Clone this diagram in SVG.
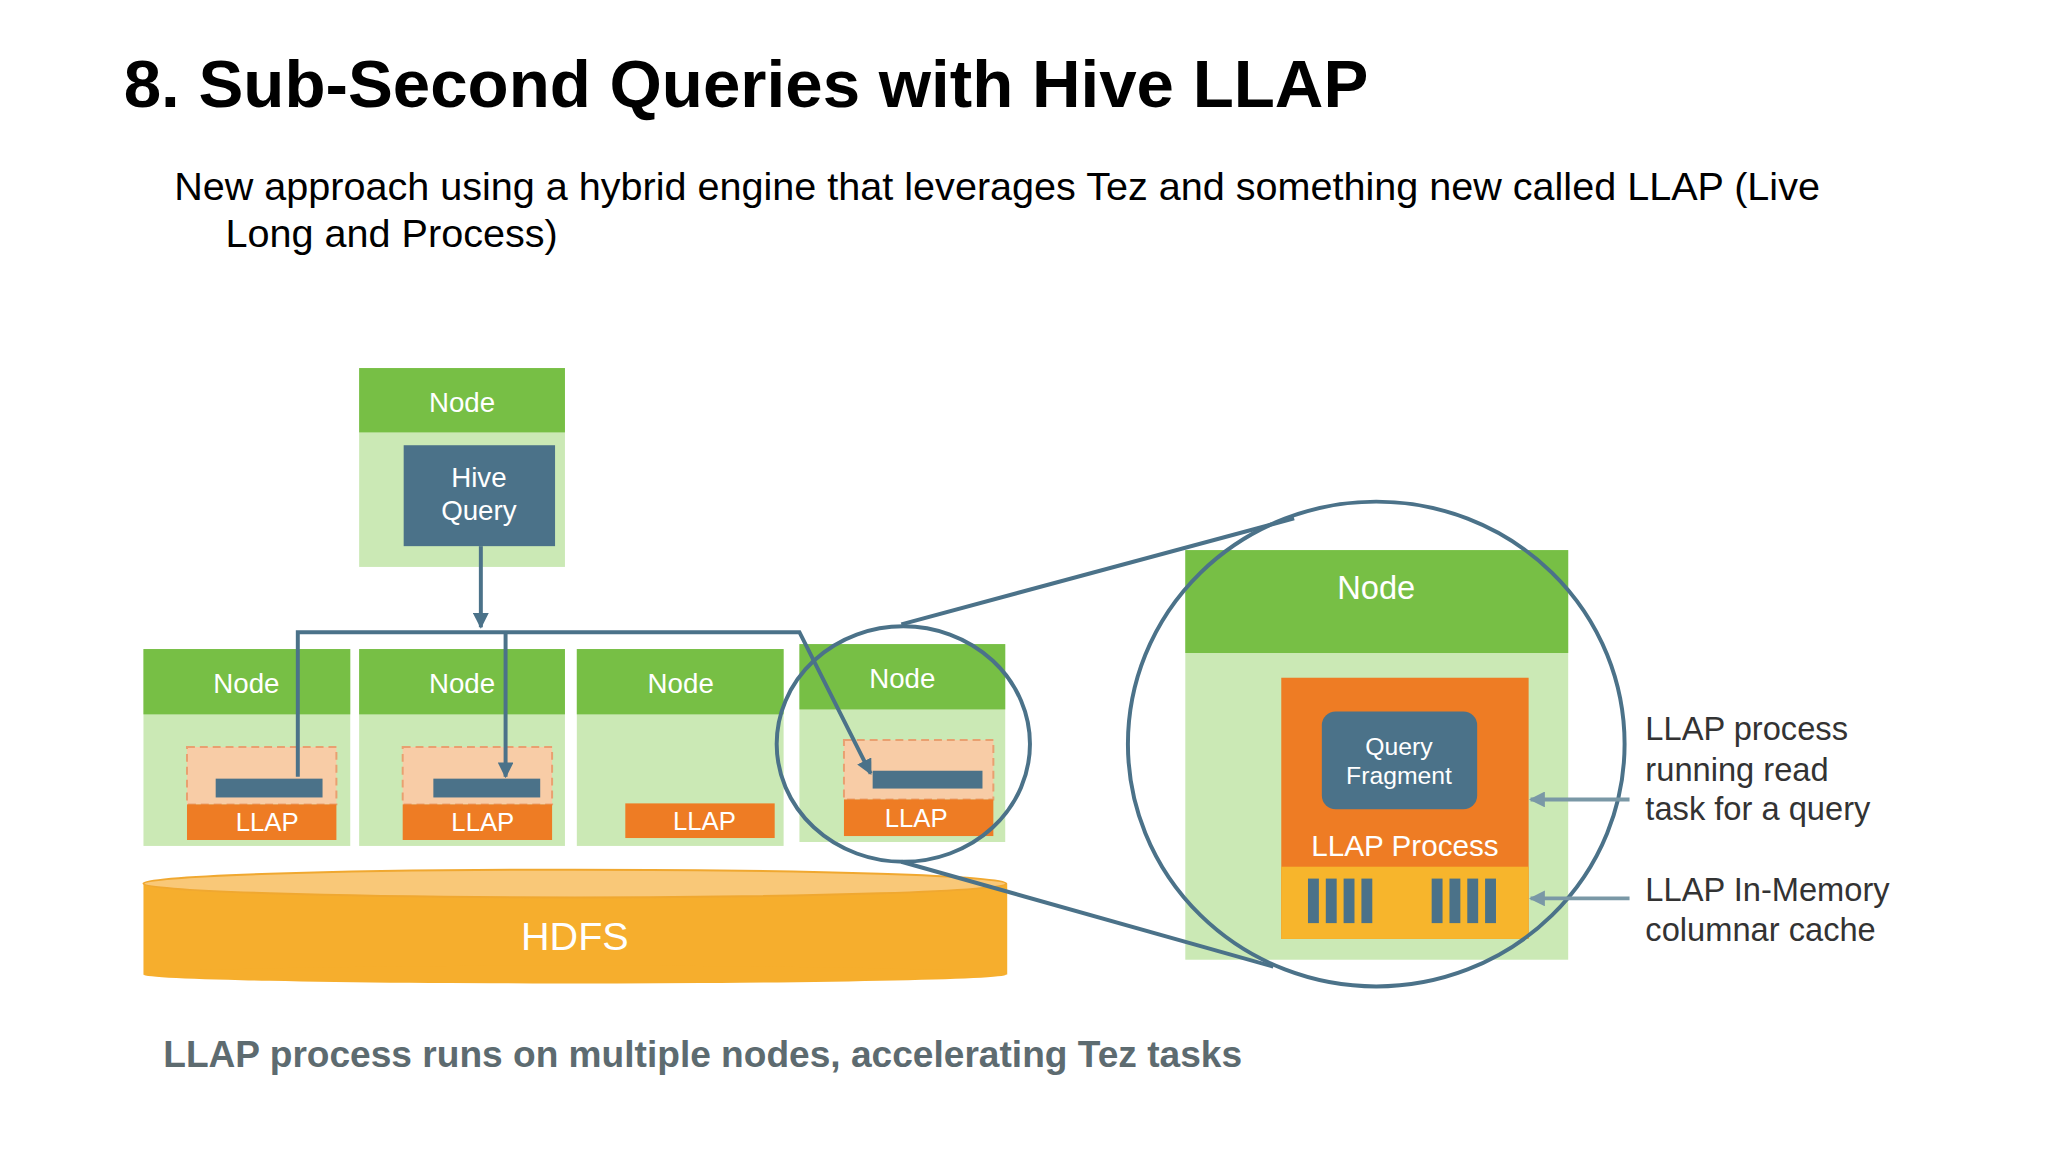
<svg xmlns="http://www.w3.org/2000/svg" width="2048" height="1152" viewBox="0 0 2048 1152">
<defs>
<style>
.hd{fill:#77bf45}.bd{fill:#cbe9b5}.bl{fill:#4b7289}.or{fill:#ee7c24}.pc{fill:#f8cca6;stroke:#e9a070;stroke-width:2;stroke-dasharray:8 5}
.wt{font-family:"Liberation Sans",Arial,sans-serif;fill:#fff;text-anchor:middle}
.ln{stroke:#4b7289;stroke-width:4;fill:none}
.lb{font-family:"Liberation Sans",Arial,sans-serif;fill:#333;font-size:33px}
</style>
<marker id="ah" viewBox="0 0 10 10" refX="9" refY="5" markerWidth="4" markerHeight="4" orient="auto"><path d="M0,0L10,5L0,10z" fill="#4b7289"/></marker>
<marker id="ag" viewBox="0 0 10 10" refX="9" refY="5" markerWidth="4" markerHeight="4" orient="auto"><path d="M0,0L10,5L0,10z" fill="#7a98a6"/></marker>
</defs>
<rect width="2048" height="1152" fill="#fff"/>
<g transform="scale(0.9894)">
<text x="125" y="108" font-family="Liberation Sans,Arial,sans-serif" font-weight="bold" font-size="68">8. Sub-Second Queries with Hive LLAP</text>
<text x="176" y="202" font-family="Liberation Sans,Arial,sans-serif" font-size="40">New approach using a hybrid engine that leverages Tez and something new called  LLAP (Live</text>
<text x="228" y="250" font-family="Liberation Sans,Arial,sans-serif" font-size="40">Long and Process)</text>

<g id="hdfs">
<rect x="145" y="893" width="873" height="92" fill="#f6ae2d"/>
<ellipse cx="581" cy="985" rx="436" ry="9" fill="#f6ae2d"/>
<ellipse cx="581" cy="893" rx="436" ry="14" fill="#f9c878" stroke="#f0a830" stroke-width="2"/>
<text class="wt" x="581" y="960" font-size="40">HDFS</text>
</g>
<g id="top-node">
<rect class="bd" x="363" y="372" width="208" height="201"/><rect class="hd" x="363" y="372" width="208" height="65"/>
<text class="wt" x="467" y="416" font-size="28">Node</text>
<rect class="bl" x="408" y="450" width="153" height="102"/>
<text class="wt" x="484" y="492" font-size="28">Hive</text><text class="wt" x="484" y="526" font-size="28">Query</text>
</g>
<g id="node1">
<rect class="bd" x="145" y="656" width="209" height="199"/><rect class="hd" x="145" y="656" width="209" height="66"/>
<text class="wt" x="249" y="700" font-size="28">Node</text>
<rect class="pc" x="189" y="755" width="151" height="58"/><rect class="bl" x="218" y="787" width="108" height="19"/>
<rect class="or" x="189" y="813" width="151" height="36"/><text class="wt" x="270" y="840" font-size="26">LLAP</text>
</g>
<g id="node2">
<rect class="bd" x="363" y="656" width="208" height="199"/><rect class="hd" x="363" y="656" width="208" height="66"/>
<text class="wt" x="467" y="700" font-size="28">Node</text>
<rect class="pc" x="407" y="755" width="151" height="58"/><rect class="bl" x="438" y="787" width="108" height="19"/>
<rect class="or" x="407" y="813" width="151" height="36"/><text class="wt" x="488" y="840" font-size="26">LLAP</text>
</g>
<g id="node3">
<rect class="bd" x="583" y="656" width="209" height="199"/><rect class="hd" x="583" y="656" width="209" height="66"/>
<text class="wt" x="688" y="700" font-size="28">Node</text>
<rect class="or" x="632" y="812" width="151" height="35"/><text class="wt" x="712" y="839" font-size="26">LLAP</text>
</g>
<g id="node4">
<rect class="bd" x="808" y="651" width="208" height="200"/><rect class="hd" x="808" y="651" width="208" height="66"/>
<text class="wt" x="912" y="695" font-size="28">Node</text>
<rect class="pc" x="853" y="748" width="151" height="60"/><rect class="bl" x="882" y="779" width="111" height="18"/>
<rect class="or" x="853" y="808" width="151" height="37"/><text class="wt" x="926" y="836" font-size="26">LLAP</text>
</g>
<g id="big-node">
<rect class="bd" x="1198" y="556" width="387" height="414"/><rect class="hd" x="1198" y="556" width="387" height="104"/>
<text class="wt" x="1391" y="605" font-size="33">Node</text>
<rect class="or" x="1295" y="685" width="250" height="264"/>
<rect x="1295" y="876" width="250" height="73" fill="#f7b52c"/>
<rect class="bl" x="1336" y="719" width="157" height="99" rx="14"/>
<text class="wt" x="1414" y="763" font-size="25">Query</text><text class="wt" x="1414" y="792" font-size="25">Fragment</text>
<text class="wt" x="1420" y="865" font-size="30">LLAP Process</text>
<g class="bl">
<rect x="1322" y="888" width="11" height="45"/><rect x="1340" y="888" width="11" height="45"/><rect x="1358" y="888" width="11" height="45"/><rect x="1376" y="888" width="11" height="45"/>
<rect x="1447" y="888" width="11" height="45"/><rect x="1465" y="888" width="11" height="45"/><rect x="1483" y="888" width="11" height="45"/><rect x="1501" y="888" width="11" height="45"/>
</g>
</g>
<g id="connectors">
<line class="ln" x1="486" y1="552" x2="486" y2="634" marker-end="url(#ah)"/>
<path class="ln" d="M301,785V639H808L880,782" marker-end="url(#ah)"/>
<line class="ln" x1="511" y1="639" x2="511" y2="785" marker-end="url(#ah)"/>
<line class="ln" x1="911" y1="631" x2="1308" y2="524" stroke-width="3"/>
<line class="ln" x1="911" y1="871" x2="1287" y2="977" stroke-width="3"/>
<ellipse class="ln" cx="913" cy="752" rx="128" ry="119" stroke-width="5"/>
<ellipse class="ln" cx="1391" cy="752" rx="251" ry="245" stroke-width="6"/>
<line x1="1647" y1="808" x2="1547" y2="808" stroke="#7a98a6" stroke-width="4" marker-end="url(#ag)"/>
<line x1="1647" y1="908" x2="1547" y2="908" stroke="#7a98a6" stroke-width="4" marker-end="url(#ag)"/>
</g>
<text class="lb" x="1663" y="748">LLAP process</text>
<text class="lb" x="1663" y="789">running read</text>
<text class="lb" x="1663" y="829">task for a query</text>
<text class="lb" x="1663" y="911">LLAP In-Memory</text>
<text class="lb" x="1663" y="951">columnar cache</text>
<text x="165" y="1078" font-family="Liberation Sans,Arial,sans-serif" font-weight="bold" font-size="37.5" fill="#5d6b70">LLAP process runs on multiple nodes, accelerating Tez tasks</text>
</g>
</svg>
